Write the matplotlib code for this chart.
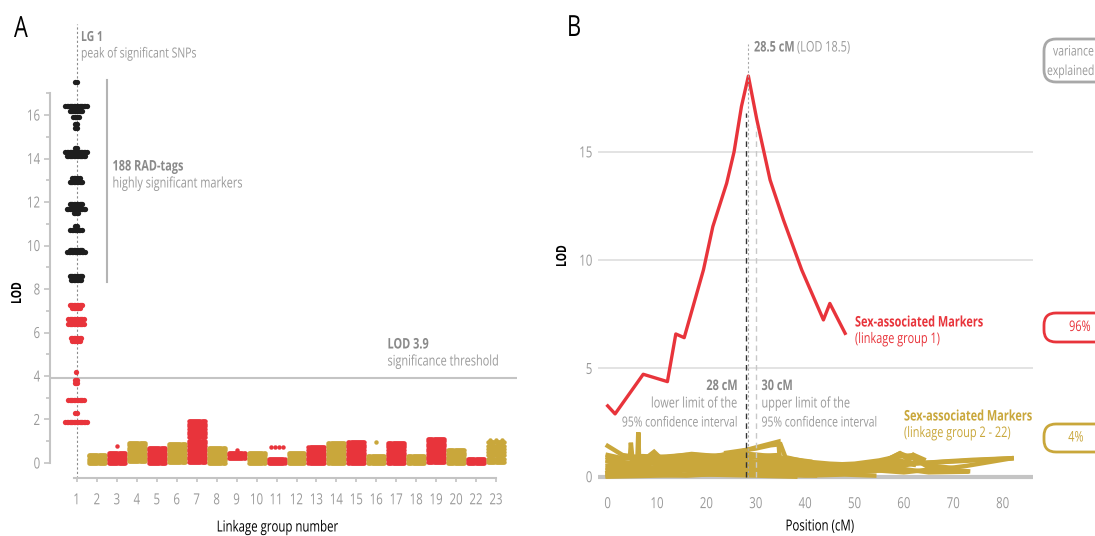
"LOD scan of sex-associated RAD markers: per linkage group and along LG1"

import numpy as np
import matplotlib.pyplot as plt
from matplotlib.patches import FancyBboxPatch
from matplotlib.patheffects import AbstractPathEffect
from matplotlib.transforms import Affine2D, IdentityTransform

plt.rcParams['font.family'] = ['Open Sans', 'DejaVu Sans']

W, H = 1095, 536
RED = '#e8343b'
GOLD = '#c9a73b'
BLACK = '#1e1e1e'
GREY = '#9a9a9a'
DGREY = '#8a8a8a'
SX = 0.75   # horizontal squeeze applied to all lettering

# ---- panel A data -------------------------------------------------------
lg_labels = ['1', '2', '3', '4', '5', '6', '7', '8', '9', '10', '11', '12',
             '13', '14', '15', '16', '17', '18', '19', '20', '22', '23']

# LG1 rows of SNPs: LOD level and number of markers at that level
lg1_lod = [17.5, 16.4, 16.2, 15.9, 15.6, 15.4, 14.5, 14.3, 14.1, 13.1, 12.9,
           11.9, 11.7, 11.5, 10.9, 10.7, 9.8, 9.7, 8.6, 8.4,
           7.25, 7.15, 6.6, 6.4, 5.75, 5.6, 4.2, 3.8, 3.7, 2.9, 2.3, 1.9]
lg1_count = [2, 16, 10, 5, 3, 2, 3, 16, 14, 6, 10,
             10, 14, 4, 2, 9, 10, 13, 10, 8,
             10, 6, 12, 12, 8, 6, 1, 3, 3, 12, 2, 16]

# LOD levels of SNP rows in the remaining linkage groups
snp_lod = [
    [0.0, 0.1, 0.2, 0.3, 0.38],
    [0.0, 0.12, 0.24, 0.36, 0.45],
    [0.1, 0.22, 0.34, 0.46, 0.58, 0.7, 0.82, 0.9],
    [0.0, 0.12, 0.24, 0.36, 0.48, 0.6, 0.7],
    [0.05, 0.17, 0.29, 0.41, 0.53, 0.65, 0.77, 0.88],
    [0.05, 0.17, 0.29, 0.41, 0.53, 0.65, 0.77, 0.9, 1.02, 1.2, 1.32, 1.44,
     1.56, 1.68, 1.8, 1.92],
    [0.0, 0.12, 0.24, 0.36, 0.48, 0.6, 0.7],
    [0.25, 0.35, 0.45],
    [0.0, 0.12, 0.24, 0.36, 0.48],
    [0.0, 0.1, 0.2],
    [0.0, 0.12, 0.24, 0.36, 0.45],
    [0.0, 0.12, 0.24, 0.36, 0.48, 0.6, 0.72],
    [0.0, 0.12, 0.24, 0.36, 0.48, 0.6, 0.72, 0.84, 0.92],
    [0.0, 0.12, 0.24, 0.36, 0.48, 0.6, 0.72, 0.84, 0.96],
    [0.0, 0.12, 0.24, 0.3],
    [0.0, 0.12, 0.24, 0.36, 0.48, 0.6, 0.72, 0.84, 0.9],
    [0.0, 0.12, 0.24, 0.3],
    [0.05, 0.17, 0.29, 0.41, 0.53, 0.65, 0.77, 0.89, 1.01, 1.12],
    [0.0, 0.12, 0.24, 0.36, 0.48, 0.6],
    [0.0, 0.1, 0.2],
    [0.05, 0.2, 0.35, 0.5, 0.65, 0.8, 0.95],
]
out_group = ['3', '9', '11', '16', '23']
out_lod = [0.78, 0.62, 0.72, 0.96, 1.05]
out_count = [1, 1, 4, 1, 3]

threshold = 3.9

# ---- panel B data -------------------------------------------------------
lg1_pos = [0, 1.5, 7.2, 12.1, 13.8, 15.5, 19.4, 21.3, 24.1, 25.6, 27.1,
           28.5, 30.2, 32.9, 35.6, 39.3, 43.7, 45.0, 48.1]
lg1_scan = [3.27, 2.9, 4.73, 4.39, 6.59, 6.42, 9.55, 11.55, 13.55, 15.0, 17.1,
            18.5, 16.5, 13.7, 11.86, 9.55, 7.24, 8.0, 6.62]
peak_pos, peak_lod = 28.5, 18.5
ci_low, ci_high = 28, 30

other_pos = [
    [0, 3, 6, 9, 12, 16, 20, 24, 28],
    [0, 2, 4.5, 4.7, 5, 8, 11, 14, 18],
    [0, 3, 6, 6.2, 6.4, 9, 13, 17, 21],
    [0, 4, 8, 9.4, 11, 15, 19, 23, 26.8, 30, 34.6, 34.8, 30, 27],
    [24, 27, 30, 33, 35, 36, 40, 45, 50],
    [0, 5, 10, 15, 20, 25, 30, 35, 40, 45, 50, 55],
    [10, 15, 20, 25, 30, 35, 40, 45, 50, 55, 59.2, 61, 61.9],
    [36, 45, 55, 60, 63, 66, 72.7, 81.8],
    [40, 50, 60, 70, 81.8],
    [0, 5, 10, 15, 20, 25, 30, 35, 40, 45, 50, 56, 60, 65, 72.7],
    [0, 4, 8, 12, 16, 20, 24, 28, 32, 36, 40, 44, 48],
    [5, 10, 16, 22, 28, 34, 40, 46, 52, 58, 62],
    [0, 6, 12, 18, 24, 30, 36, 42, 48, 54, 60, 66, 73],
    [0, 3, 7, 12, 17, 22, 27],
    [14, 18, 22, 26, 31, 36, 41],
    [0, 8, 16, 24, 32, 40, 48, 54],
    [2, 7, 12, 17, 22, 27, 32, 37, 42, 47, 52, 57, 62],
    [45, 50, 55, 59.2, 64, 66, 70],
    [0, 10, 20, 30, 38],
    [8, 14, 20, 26, 32, 38, 44, 50, 56, 62, 68, 74, 81.8],
    [30, 35, 40, 45, 50, 55, 58, 62, 64],
    [0, 4, 8, 13, 18, 23, 28, 33, 38, 42],
    [0, 5, 9, 14, 19, 24, 29, 34, 39],
    [1, 6, 11, 16, 21, 26, 31, 36],
]
other_lod = [
    [1.42, 1.0, 0.9, 0.75, 0.8, 0.7, 0.85, 0.95, 0.7],
    [0.9, 0.8, 0.85, 1.57, 0.85, 0.6, 0.7, 0.5, 0.6],
    [0.5, 0.6, 0.7, 2.05, 0.6, 0.4, 0.55, 0.45, 0.3],
    [0.2, 0.6, 0.9, 1.15, 0.8, 0.75, 0.9, 1.0, 1.15, 1.35, 1.62, 1.0, 0.95, 0.9],
    [1.1, 1.2, 1.3, 1.45, 1.5, 0.9, 0.7, 0.6, 0.55],
    [0.3, 0.4, 0.2, 0.5, 0.3, 0.6, 0.4, 0.5, 0.3, 0.35, 0.45, 0.5],
    [0.6, 0.7, 0.65, 0.8, 0.9, 0.75, 0.6, 0.55, 0.5, 0.6, 1.08, 0.75, 1.0],
    [0.1, 0.2, 0.4, 0.5, 0.7, 0.3, 0.5, 0.85],
    [0.3, 0.45, 0.6, 0.7, 0.85],
    [0.1, 0.2, 0.15, 0.3, 0.2, 0.25, 0.1, 0.2, 0.15, 0.25, 0.2, 0.3, 0.35, 0.2, 0.23],
    [0.7, 0.55, 0.65, 0.5, 0.7, 0.55, 0.6, 0.75, 0.6, 0.5, 0.45, 0.4, 0.3],
    [0.8, 0.9, 1.0, 0.85, 0.7, 0.65, 0.5, 0.45, 0.6, 0.8, 0.6],
    [0.4, 0.35, 0.45, 0.3, 0.5, 0.4, 0.3, 0.35, 0.25, 0.3, 0.2, 0.35, 0.25],
    [1.0, 0.85, 0.95, 0.9, 1.05, 0.95, 1.0],
    [0.9, 1.0, 0.95, 1.1, 1.0, 0.85, 0.7],
    [0.05, 0.1, 0.05, 0.15, 0.1, 0.05, 0.1, 0.05],
    [0.6, 0.5, 0.3, 0.45, 0.35, 0.55, 0.7, 0.6, 0.4, 0.5, 0.6, 0.7, 0.55],
    [0.5, 0.55, 0.6, 1.08, 0.65, 0.5, 0.4],
    [0.0, 0.05, 0.1, 0.05, 0.0],
    [0.3, 0.25, 0.4, 0.3, 0.2, 0.35, 0.4, 0.5, 0.55, 0.6, 0.7, 0.78, 0.85],
    [0.9, 0.7, 0.6, 0.55, 0.6, 0.75, 0.9, 1.0, 0.8],
    [0.15, 0.3, 0.2, 0.35, 0.25, 0.4, 0.3, 0.2, 0.1, 0.05],
    [0.75, 0.6, 0.7, 0.65, 0.75, 0.8, 0.7, 0.6, 0.4],
    [0.45, 0.3, 0.45, 0.6, 0.5, 0.65, 0.55, 0.35],
]
variance = ['96%', '4%']


class Narrow(AbstractPathEffect):
    """Squeeze glyph outlines horizontally, keeping the text's alignment."""

    def __init__(self, sx=SX, align='left'):
        super().__init__()
        self.sx = sx
        self.frac = {'left': 0.0, 'center': 0.5, 'right': 1.0}[align]

    def draw_path(self, renderer, gc, tpath, affine, rgbFace=None):
        if len(tpath.vertices) == 0:
            return
        w = tpath.get_extents().x1
        local = Affine2D().scale(self.sx, 1).translate(self.frac * (1 - self.sx) * w, 0)
        renderer.draw_path(gc, tpath, local + affine, rgbFace)


def px(x, y):
    return x / W, 1 - y / H


def label(x, y, s, size=10, color=GREY, ha='left', va='baseline', **kw):
    return fig.text(*px(x, y), s, fontsize=size, color=color, ha=ha, va=va,
                    path_effects=[Narrow(align=ha)], **kw)


def draw_row(ax, center, lod, n, width, color, ms=3.2):
    xs = center + np.linspace(-width / 2, width / 2, n) if n > 1 else [center]
    ax.plot(xs, [lod] * n, 'o', ms=ms, color=color, mec='none')


fig = plt.figure(figsize=(W / 100, H / 100), dpi=100)

# ---- A -----------------------------------------------------------------
axA = fig.add_axes([50 / W, 58 / H, 467 / W, 458 / H])
axA.set_xlim(-1.353, 22.05)
axA.set_ylim(-0.69, 20.37)

for lod, n in zip(lg1_lod, lg1_count):
    draw_row(axA, -0.05, lod, n, 0.072 * (n - 1), BLACK if lod > 8 else RED, ms=3.8)

for i, rows in enumerate(snp_lod, start=1):
    color = GOLD if i % 2 == 1 else RED
    for lod in rows:
        draw_row(axA, i, lod, 16, 0.8, color)

for g, lod, n in zip(out_group, out_lod, out_count):
    i = lg_labels.index(g)
    draw_row(axA, i, lod, n, 0.6, GOLD if i % 2 == 1 else RED)

axA.axhline(threshold, color='#c4c4c4', lw=1.5, zorder=0)
axA.plot([0, 0], [-0.69, 20.2], ls=(0, (2, 2)), color='#8c8c8c', lw=0.8, zorder=0)
axA.plot([1.5, 1.5], [8.3, 17.6], color='#b4b4b4', lw=1.5)

for s in ['top', 'right']:
    axA.spines[s].set_visible(False)
axA.spines['left'].set_bounds(0, 17)
axA.spines['bottom'].set_bounds(-0.15, 21)
for s in ['left', 'bottom']:
    axA.spines[s].set_color('#c4c4c4')
    axA.spines[s].set_linewidth(1.5)
axA.set_yticks(range(0, 17, 2))
axA.set_yticks(range(1, 18, 2), minor=True)
axA.set_xticks(range(len(lg_labels)))
axA.set_xticklabels(lg_labels)
axA.tick_params(colors='#c4c4c4', labelcolor=GREY, labelsize=11, width=1.2)
axA.tick_params(axis='x', length=3, pad=8)
axA.tick_params(axis='y', length=4, pad=3)
axA.tick_params(which='minor', colors='#c4c4c4', length=3, width=1.2)

label(14, 37, 'A', size=21, color='black')
label(81, 41, 'LG 1', color=DGREY, weight='bold')
label(81, 57.5, 'peak of significant SNPs')
label(112.5, 170.5, '188 RAD-tags', size=10.5, color=DGREY, weight='bold')
label(112.5, 187.5, 'highly significant markers', size=10.5)
label(387.5, 348.5, 'LOD 3.9', size=10.5, color=DGREY, weight='bold')
label(387.5, 365.5, 'significance threshold', size=10.5)
label(17, 293, 'LOD', size=10, color='black', weight='bold', rotation=90,
      ha='center', va='center')
label(277.5, 528, 'Linkage group number', size=11, color='black',
      ha='center', va='center')

# ---- B -----------------------------------------------------------------
axB = fig.add_axes([598 / W, 50 / H, 435 / W, 450 / H])
axB.set_xlim(-1.96, 86.15)
axB.set_ylim(-0.43, 20.35)

for y in (5, 10, 15):
    axB.axhline(y, color='#dedede', lw=1.2, zorder=0)
axB.axhline(0, color='#c4c4c4', lw=3, zorder=0)

for xs, ys in zip(other_pos, other_lod):
    axB.plot(xs, ys, color=GOLD, lw=3.2, solid_joinstyle='miter')
axB.plot(lg1_pos, lg1_scan, color=RED, lw=2.4)

axB.plot([peak_pos, peak_pos], [0, 20.0], ls=(0, (2, 2)), color='#a8a8a8', lw=0.8)
axB.plot([ci_low, ci_low], [0, 16.8], ls=(0, (4, 3)), color='#333333', lw=1)
axB.plot([ci_high, ci_high], [0, 16.2], ls=(0, (4, 3)), color='#c8c8c8', lw=1)

for s in axB.spines.values():
    s.set_visible(False)
axB.set_yticks([0, 5, 10, 15])
axB.set_xticks(range(0, 81, 10))
axB.tick_params(length=0, labelcolor=GREY, labelsize=11)
axB.tick_params(axis='x', pad=8)
axB.tick_params(axis='y', pad=4)

label(567, 36, 'B', size=21, color='black')
label(562, 256, 'LOD', size=10, color='black', weight='bold', rotation=90,
      ha='center', va='center')
label(820, 527, 'Position (cM)', size=11, color='black', ha='center', va='center')

label(754, 51.5, '28.5 cM', size=10.5, color=DGREY, weight='bold')
label(797, 51.5, '(LOD 18.5)', size=10.5)
label(738, 390, '28 cM', size=10.5, color=DGREY, weight='bold', ha='right')
label(738, 407.5, 'lower limit of the', size=10.5, ha='right')
label(738, 426.5, '95% confidence interval', size=10, ha='right')
label(761.5, 390, '30 cM', size=10.5, color=DGREY, weight='bold')
label(761.5, 407.5, 'upper limit of the', size=10.5)
label(761.5, 426.5, '95% confidence interval', size=10)
label(855, 326.5, 'Sex-associated Markers', size=10.5, color=RED, weight='bold')
label(855, 343, '(linkage group 1)', size=10.5, color=RED)
label(904, 420.5, 'Sex-associated Markers', size=10.5, color=GOLD, weight='bold')
label(904, 437, '(linkage group 2 - 22)', size=10.5, color=GOLD)

# variance explained boxes, running off the right edge
boxes = [(39, 82, '#a8a8a8', None, 0), (313, 342, RED, variance[0], 1080),
         (424, 452, GOLD, variance[1], 1076)]
for top, bottom, col, text, cx in boxes:
    fig.add_artist(FancyBboxPatch((1044, H - bottom), 90, bottom - top,
                                  boxstyle='round,pad=0,rounding_size=12',
                                  transform=IdentityTransform(),
                                  fc='white', ec=col, lw=2))
    if text:
        label(cx, (top + bottom) / 2, text, size=10.5, color=col,
              ha='center', va='center')
label(1053, 52, 'variance', size=10, va='center')
label(1047, 71.5, 'explained', size=10, va='center')

# squeeze tick labels the same way as the rest of the lettering
for ax in (axA, axB):
    for t in ax.get_xticklabels():
        t.set_path_effects([Narrow(align='center')])
    for t in ax.get_yticklabels():
        t.set_path_effects([Narrow(align='right')])

fig.savefig('out.png', dpi=100)
